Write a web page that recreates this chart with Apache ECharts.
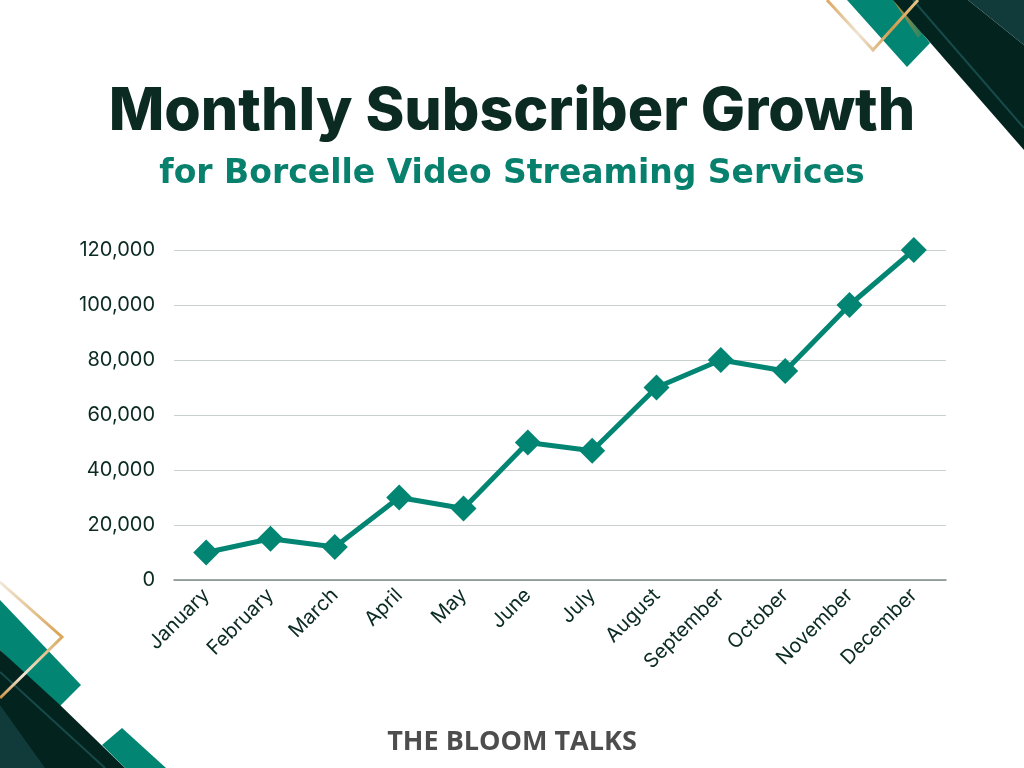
<!DOCTYPE html>
<html><head><meta charset="utf-8">
<script src="https://cdn.jsdelivr.net/npm/echarts@6/dist/echarts.min.js"></script>
<style>html,body{margin:0;padding:0;background:#fff}#c{width:1024px;height:768px}</style>
</head><body><div id="c"></div>
<script>
const months = ["January","February","March","April","May","June","July","August","September","October","November","December"];
const subscribers = [10000,15000,12000,30000,26000,50000,47000,70000,80000,76000,100000,120000];
const yTicks = [0,20000,40000,60000,80000,100000,120000];

const dark = '#03241E', dark2 = '#113A3B', teal = '#028572';
function poly(points, fill, z){return {type:'polygon',shape:{points},style:{fill},z:z||1,silent:true};}
function pl(points, stroke, w, z){return {type:'polyline',shape:{points},style:{stroke,lineWidth:w,fill:null},z:z||1,silent:true};}

const chart = echarts.init(document.getElementById('c'));
chart.setOption({
  backgroundColor:'#fff',
  animation:false,
  title:[
    {text:'Monthly Subscriber Growth',left:'center',top:78,textStyle:{fontFamily:'Inter',fontWeight:800,fontSize:59,color:'#0A2A22'}},
    {text:'for Borcelle Video Streaming Services',left:'center',top:153,textStyle:{fontFamily:'DejaVu Sans',fontWeight:700,fontSize:33,color:'#07806D'}},
    {text:'THE BLOOM TALKS',left:'center',top:724,textStyle:{fontFamily:'Open Sans',fontWeight:700,fontSize:27,color:'#4d4d4d'}}
  ],
  grid:{left:174,right:78,top:250,bottom:188,containLabel:false},
  xAxis:{type:'category',data:months,boundaryGap:true,
    axisLine:{lineStyle:{color:'#7d8c89',width:1.5}},axisTick:{show:false},
    axisLabel:{rotate:45,margin:12,fontFamily:'Inter',fontSize:20,color:'#0A2A22'}},
  yAxis:{type:'value',min:0,max:120000,interval:20000,
    axisLine:{show:false},axisTick:{show:false},
    splitLine:{lineStyle:{color:'#c9d0ce',width:1}},
    axisLabel:{margin:19,fontFamily:'Inter',fontSize:20,color:'#0A2A22',
      formatter:v=>yTicks.includes(v)?v.toLocaleString('en-US'):''}},
  series:[{type:'line',data:subscribers,symbol:'diamond',symbolSize:26,
    lineStyle:{color:teal,width:5},itemStyle:{color:teal}}],
  graphic:[
    // top-right decorations
    poly([[847,0],[895,0],[930,43],[907,67]],teal,1),
    poly([[893,0],[968,0],[1024,45],[1024,150]],dark,2),
    poly([[968,0],[1024,0],[1024,45]],dark2,3),
    pl([[913,0],[1024,128]],'#174a4a',2,3),
    poly([[893,0],[905,0],[928,28],[918,38]],{type:'linear',x:0,y:0,x2:1,y2:0,colorStops:[{offset:0,color:'#c98a35'},{offset:1,color:teal}]},1),
    pl([[827,0],[873,50],[918,0]],{type:'linear',x:0,y:0,x2:1,y2:0,colorStops:[{offset:0,color:'#d9a456'},{offset:0.35,color:'#efe4d4'},{offset:0.7,color:'#d39b4b'},{offset:1,color:'#e8c890'}]},3,4),
    // bottom-left decorations
    poly([[0,600],[81,685],[58,708],[0,650]],teal,1),
    poly([[0,650],[60,705],[125,768],[0,768]],dark,2),
    poly([[0,705],[45,768],[0,768]],dark2,3),
    pl([[0,672],[105,768]],'#174a4a',2,3),
    poly([[102,745],[122,728],[166,768],[125,768]],teal,3),
    pl([[0,582],[62,637],[0,698]],{type:'linear',x:0,y:0,x2:0,y2:1,colorStops:[{offset:0,color:'#f3ebe0'},{offset:0.45,color:'#d9a456'},{offset:0.8,color:'#efe4d4'},{offset:1,color:'#c98a35'}]},3,4)
  ]
});
</script></body></html>
